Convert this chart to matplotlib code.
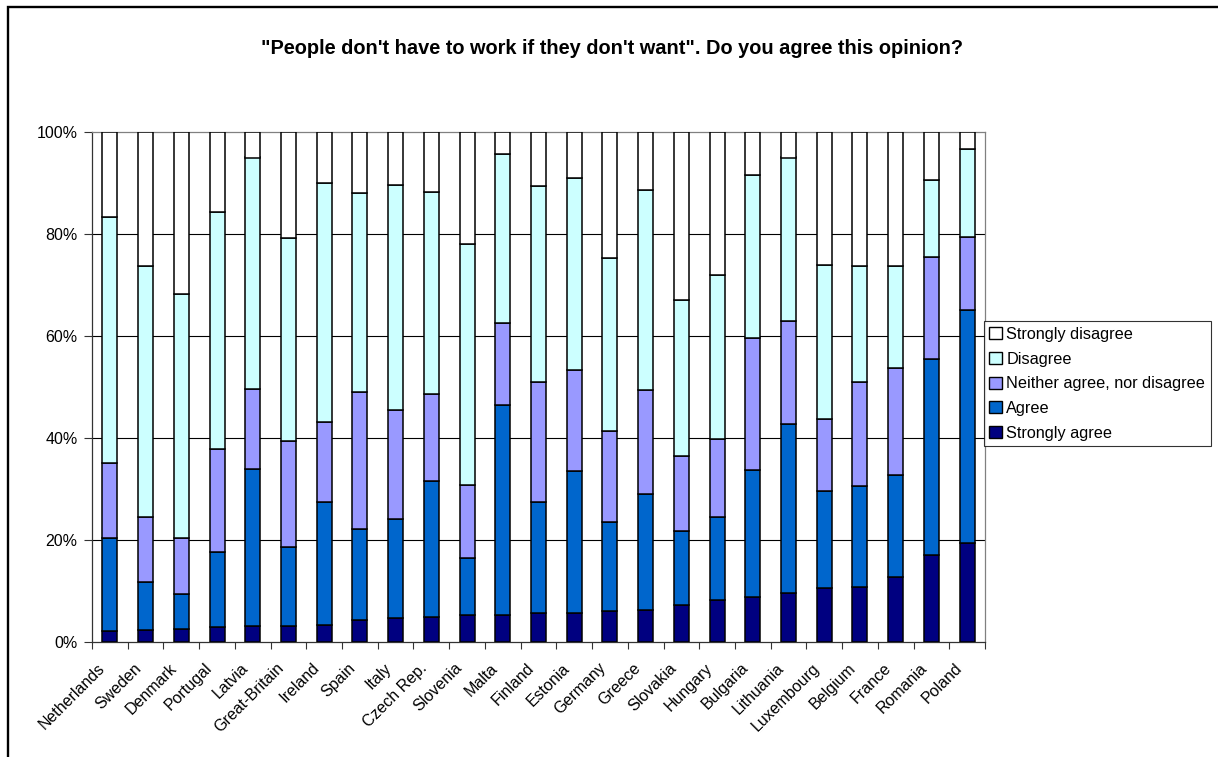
import matplotlib
matplotlib.use("Agg")
import matplotlib.pyplot as plt
import matplotlib.transforms as mtransforms
from matplotlib.patches import Patch, Rectangle
import numpy as np

plt.rcParams['font.family'] = ['Liberation Sans', 'DejaVu Sans']

countries = ["Netherlands", "Sweden", "Denmark", "Portugal", "Latvia", "Great-Britain",
             "Ireland", "Spain", "Italy", "Czech Rep.", "Slovenia", "Malta", "Finland",
             "Estonia", "Germany", "Greece", "Slovakia", "Hungary", "Bulgaria",
             "Lithuania", "Luxembourg", "Belgium", "France", "Romania", "Poland"]

# Shares in percent for each answer, per country
strongly_agree = [2.2, 2.3, 2.5, 3.0, 3.2, 3.2, 3.4, 4.3, 4.8, 5.0, 5.2, 5.3, 5.6,
                  5.7, 6.0, 6.2, 7.3, 8.2, 8.9, 9.6, 10.5, 10.7, 12.7, 17.1, 19.5]
agree = [18.2, 9.4, 7.0, 14.6, 30.7, 15.5, 24.1, 17.9, 19.4, 26.5, 11.3, 41.2, 21.9,
         27.9, 17.5, 22.9, 14.4, 16.3, 24.8, 33.2, 19.2, 19.8, 20.1, 38.4, 45.6]
neither = [14.7, 12.8, 10.8, 20.3, 15.8, 20.7, 15.7, 26.9, 21.2, 17.2, 14.3, 16.1, 23.5,
           19.7, 17.9, 20.3, 14.8, 15.3, 26.0, 20.2, 14.1, 20.4, 20.9, 20.0, 14.4]
disagree = [48.3, 49.3, 48.0, 46.5, 45.3, 39.8, 46.8, 38.9, 44.3, 39.6, 47.2, 33.0, 38.5,
            37.6, 33.8, 39.3, 30.6, 32.1, 31.9, 32.0, 30.2, 22.8, 20.1, 15.0, 17.2]
strongly_disagree = [16.6, 26.2, 31.7, 15.6, 5.0, 20.8, 10.0, 12.0, 10.3, 11.7, 22.0, 4.4,
                     10.5, 9.1, 24.8, 11.3, 32.9, 28.1, 8.4, 5.0, 26.0, 26.3, 26.2, 9.5, 3.3]

series_names = ["Strongly agree", "Agree", "Neither agree, nor disagree",
                "Disagree", "Strongly disagree"]
series_colors = ["#000080", "#0066CC", "#9999FF", "#CCFFFF", "#FFFFFF"]
y_ticks = [0, 20, 40, 60, 80, 100]
y_tick_labels = ["0%", "20%", "40%", "60%", "80%", "100%"]

W, H = 1218, 757
fig = plt.figure(figsize=(W / 100, H / 100), dpi=100)
ax = fig.add_axes([92 / W, 1 - 642 / H, (985 - 92) / W, (642 - 132) / H])

data = np.array([strongly_agree, agree, neither, disagree, strongly_disagree], dtype=float)
data = data / data.sum(axis=0) * 100.0
x = np.arange(len(countries))
bottom = np.zeros(len(countries))
for vals, name, col in zip(data, series_names, series_colors):
    ax.bar(x, vals, width=0.42, bottom=bottom, color=col, edgecolor="black",
           linewidth=1.1, label=name, zorder=3)
    bottom += vals

ax.set_xlim(-0.5, len(countries) - 0.5)
ax.set_ylim(0, 100)
ax.set_yticks(y_ticks)
ax.set_yticklabels(y_tick_labels, fontsize=11.5)
for yv in y_ticks[1:-1]:
    ax.axhline(yv, color="black", linewidth=0.8, zorder=1)

ax.set_xticks(x)
ax.set_xticklabels(countries, fontsize=11.5, rotation=45, ha="right", va="center",
                   rotation_mode="anchor")
ax.set_xticks(np.arange(-0.5, len(countries), 1.0), minor=True)
ax.tick_params(axis="x", which="major", length=0, pad=17)
ax.tick_params(axis="x", which="minor", length=5, width=0.8, direction="out", color="#333333")
ax.tick_params(axis="y", length=6, width=0.8, direction="out", pad=4.5, color="#333333")
shift = mtransforms.ScaledTranslation(-7 / 100, 0, fig.dpi_scale_trans)
for lab in ax.get_xticklabels():
    lab.set_transform(lab.get_transform() + shift)

for side in ["left", "bottom"]:
    ax.spines[side].set_color("#333333")
    ax.spines[side].set_linewidth(0.9)
for side in ["top", "right"]:
    ax.spines[side].set_color("#808080")
    ax.spines[side].set_linewidth(0.9)

fig.text(612 / W, 1 - 48 / H,
         "\"People don't have to work if they don't want\". Do you agree this opinion?",
         ha="center", va="center", fontsize=14.4, fontweight="bold")

handles = [Patch(facecolor=c, edgecolor="black", linewidth=1.0) for c in series_colors]
leg = fig.legend(handles[::-1], series_names[::-1], loc="upper left",
                 bbox_to_anchor=(984 / W, 1 - 321.5 / H), bbox_transform=fig.transFigure,
                 borderaxespad=0, fontsize=11.7, frameon=True, fancybox=False,
                 handlelength=0.75, handleheight=0.75, handletextpad=0.3,
                 labelspacing=0.6, borderpad=0.33)
leg.get_frame().set_edgecolor("black")
leg.get_frame().set_linewidth(0.8)

fig.patches.append(Rectangle((8 / W, -0.1), 1.2, 1 - 7.3 / H + 0.1,
                             transform=fig.transFigure, fill=False,
                             edgecolor="black", linewidth=1.7))

fig.savefig("out.png", dpi=100)
